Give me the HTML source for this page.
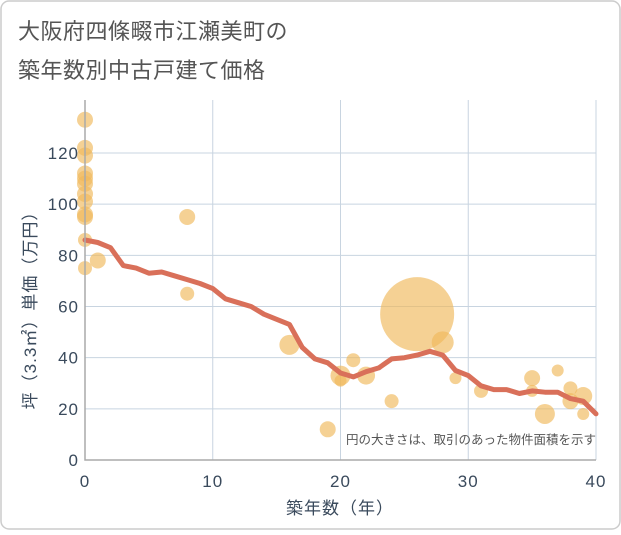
<!DOCTYPE html>
<html><head><meta charset="utf-8"><style>
body{margin:0;background:#fff;font-family:"Liberation Sans","Noto Sans CJK JP",sans-serif}
#wrap{position:relative;width:621px;height:530px}
</style></head><body>
<div id="wrap">
<svg id="chart" width="621" height="530" xmlns="http://www.w3.org/2000/svg">
<rect x="1" y="1" width="619" height="528" rx="8" fill="#fff" stroke="#ccc" stroke-width="1.5"/>
<text x="18" y="39" font-size="22" fill="#555" letter-spacing="0.5" font-family="Liberation Sans, Noto Sans CJK JP, sans-serif">大阪府四條畷市江瀬美町の</text>
<text x="18" y="78" font-size="22" fill="#555" letter-spacing="0.5" font-family="Liberation Sans, Noto Sans CJK JP, sans-serif">築年数別中古戸建て価格</text>
<g id="grid"></g><g id="bubbles"></g><g id="line"></g><g id="axes"></g>
<text x="596" y="444" font-size="12.5" fill="#555" text-anchor="end" font-family="Liberation Sans, Noto Sans CJK JP, sans-serif">円の大きさは、取引のあった物件面積を示す</text>
<text x="340" y="514" font-size="17" fill="#3a4a5c" text-anchor="middle" letter-spacing="1" font-family="Liberation Sans, Noto Sans CJK JP, sans-serif">築年数（年）</text>
<text transform="translate(36,306) rotate(-90)" font-size="17" fill="#3a4a5c" text-anchor="middle" letter-spacing="1" font-family="Liberation Sans, Noto Sans CJK JP, sans-serif">坪（3.3㎡）単価（万円）</text>
</svg></div>
<script>
const xTicks=[0,10,20,30,40];
const yTicks=[0,20,40,60,80,100,120];
const lineAges=[0,1,2,3,4,5,6,7,8,9,10,11,12,13,14,15,16,17,18,19,20,21,22,23,24,25,26,27,28,29,30,31,32,33,34,35,36,37,38,39,40];
const linePrices=[86,85,83,76,75,73,73.5,72,70.5,69,67,63,61.5,60,57,55,53,44,39.5,38,34,32.5,34.5,36,39.5,40,41,42.5,41,35,33,29,27.5,27.5,26,27,26.5,26.5,24,23,18];
const bubbleAges=[0,0,0,0,0,0,0,0,0,0,0,0,1,8,8,16,19,20,20,21,22,24,26,28,29,31,35,35,36,37,38,38,39,39];
const bubblePrices=[133,122,119,112,110,108,104,101,96,95,86,75,78,95,65,45,12,33,31,39,33,23,57,46,32,27,32,27,18,35,28,23,25,18];
const bubbleSizes=[8,8,8,8,8,8,8,8,8,8,7,7,8,8,7,10,8,10,6,7,9,7,37,11,6,7,8,6,10,6,7,8,9,6];
const X0=85,X1=596,Y0=460,Y1=100;
const xS=v=>X0+(X1-X0)*v/40;
const yS=v=>Y0-(Y0-153)*v/120;
const NS="http://www.w3.org/2000/svg";
function mk(t,a,p){const e=document.createElementNS(NS,t);for(const k in a)e.setAttribute(k,a[k]);p.appendChild(e);return e;}
const grid=document.getElementById('grid'),axes=document.getElementById('axes');
for(const t of xTicks){
 const l=mk('line',{x1:xS(t),x2:xS(t),y1:Y1,y2:Y0,stroke:'#c8d4e0','stroke-width':1},grid);
 
 
 const tx=mk('text',{x:xS(t),y:487,'font-size':17,fill:'#3a4a5c','text-anchor':'middle','letter-spacing':1},axes);
 tx.textContent=t;
 
 
}
for(const t of yTicks){
 const l=mk('line',{x1:X0,x2:X1,y1:yS(t),y2:yS(t),stroke:'#c8d4e0','stroke-width':1},grid);
 
 
 const tx=mk('text',{x:79,y:yS(t)+6,'font-size':17,fill:'#3a4a5c','text-anchor':'end','letter-spacing':1},axes);
 tx.textContent=t;
 
 
}
const ax=mk('path',{d:`M${X0},${Y1}V${Y0}H${X1}`,fill:'none',stroke:'#aaa','stroke-width':1.5},axes);


const bg=document.getElementById('bubbles');
bubbleAges.forEach((a,i)=>{
 const c=mk('circle',{cx:xS(a),cy:yS(bubblePrices[i]),r:bubbleSizes[i],fill:'#f0b95a','fill-opacity':0.65},bg);
 
 
});
const d=lineAges.map((a,i)=>(i?'L':'M')+xS(a).toFixed(1)+','+yS(linePrices[i]).toFixed(1)).join('');
const p=mk('path',{d:d,fill:'none',stroke:'#d9705a','stroke-width':5,'stroke-linejoin':'round','stroke-linecap':'round'},document.getElementById('line'));


</script>
</body></html>
